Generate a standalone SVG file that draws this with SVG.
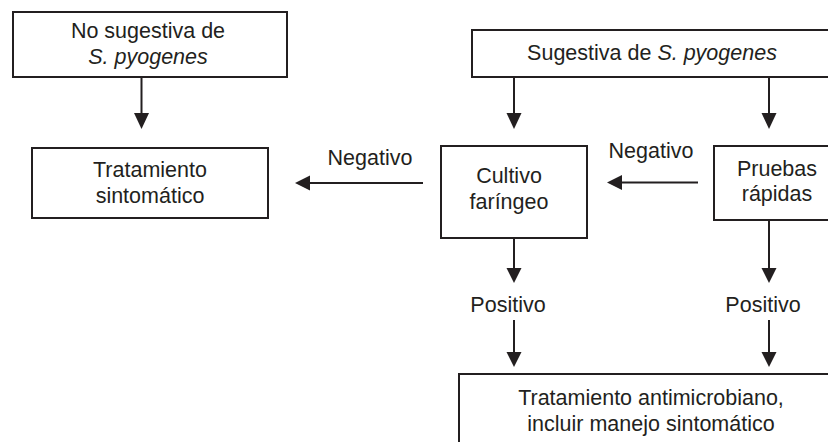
<svg xmlns="http://www.w3.org/2000/svg" width="828" height="442" viewBox="0 0 828 442">
<defs>
<style>
.box{fill:#fff;stroke:#231f20;stroke-width:2}
.ln{stroke:#231f20;stroke-width:2;fill:none}
.ah{fill:#231f20}
text{font-family:"Liberation Sans",Arial,sans-serif;font-size:21.5px;fill:#231f20;text-anchor:middle}
.it{font-style:italic}
</style>
</defs>
<rect width="828" height="442" fill="#fff"/>
<g id="n1"><rect class="box" x="13" y="12" width="274" height="65"/>
<text x="148" y="38">No sugestiva de</text>
<text x="148" y="64" class="it">S. pyogenes</text></g>
<g id="n2"><rect class="box" x="32" y="148" width="236" height="70"/>
<text x="150" y="177">Tratamiento</text>
<text x="150" y="203">sintomático</text></g>
<g id="n3"><rect class="box" x="472" y="30" width="360" height="47"/>
<text x="652" y="60">Sugestiva de <tspan class="it">S. pyogenes</tspan></text></g>
<g id="n4"><rect class="box" x="441" y="146" width="146" height="92"/>
<text x="509" y="183">Cultivo</text>
<text x="509" y="209">faríngeo</text></g>
<g id="n5"><rect class="box" x="714" y="146" width="118" height="74"/>
<text x="777" y="176">Pruebas</text>
<text x="777" y="201">rápidas</text></g>
<g id="n6"><rect class="box" x="459" y="374" width="373" height="72"/>
<text x="651" y="405">Tratamiento antimicrobiano,</text>
<text x="651" y="431">incluir manejo sintomático</text></g>
<g id="connectors">
<line class="ln" x1="141.5" y1="77" x2="141.5" y2="114"/>
<polygon class="ah" points="134,113 149,113 141.5,129"/>
<line class="ln" x1="514" y1="77" x2="514" y2="114"/>
<polygon class="ah" points="506.5,113 521.5,113 514,129"/>
<line class="ln" x1="769" y1="77" x2="769" y2="114"/>
<polygon class="ah" points="761.5,113 776.5,113 769,129"/>
<line class="ln" x1="423" y1="183" x2="309" y2="183"/>
<polygon class="ah" points="310,175.5 310,190.5 295,183"/>
<text x="370" y="165">Negativo</text>
<line class="ln" x1="698" y1="182.5" x2="621" y2="182.5"/>
<polygon class="ah" points="622,175 622,190 607,182.5"/>
<text x="651" y="158">Negativo</text>
<line class="ln" x1="514" y1="238" x2="514" y2="269"/>
<polygon class="ah" points="506.5,268 521.5,268 514,283"/>
<text x="508" y="312">Positivo</text>
<line class="ln" x1="514" y1="320" x2="514" y2="353"/>
<polygon class="ah" points="506.5,352 521.5,352 514,367"/>
<line class="ln" x1="769" y1="220" x2="769" y2="269"/>
<polygon class="ah" points="761.5,268 776.5,268 769,283"/>
<text x="763" y="312">Positivo</text>
<line class="ln" x1="769" y1="320" x2="769" y2="353"/>
<polygon class="ah" points="761.5,352 776.5,352 769,367"/>
</g>
</svg>
